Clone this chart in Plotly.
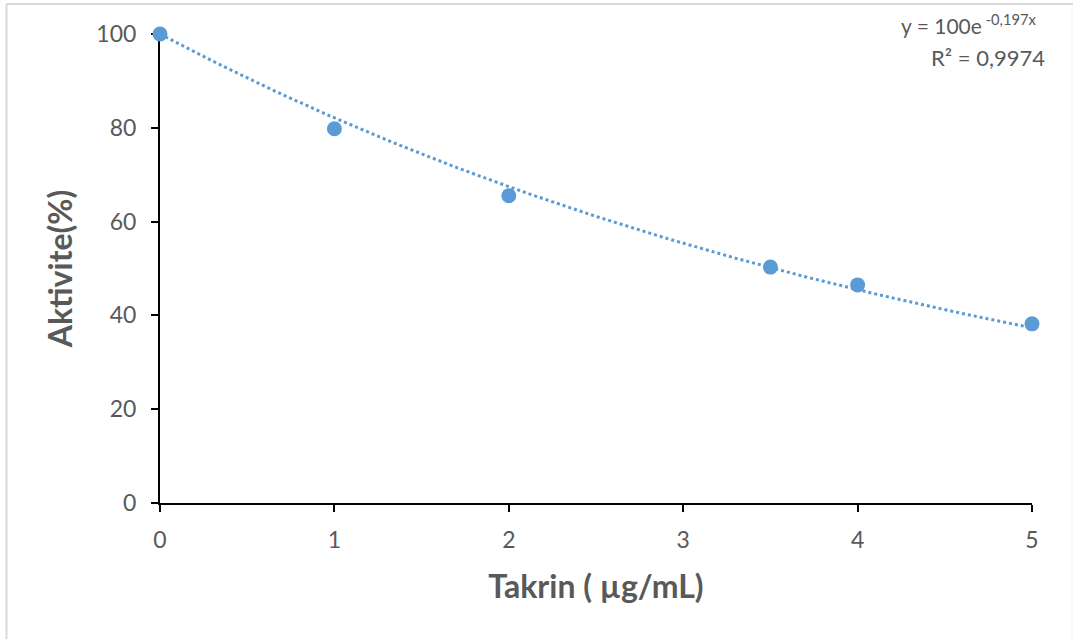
import numpy as np
import plotly.graph_objects as go

# Data
takrin = [0, 1, 2, 3.5, 4, 5]
aktivite = [100, 79.8, 65.5, 50.3, 46.5, 38.2]
x_ticks = [0, 1, 2, 3, 4, 5]
y_ticks = [0, 20, 40, 60, 80, 100]

# Exponential trendline parameters (shown on the chart)
fit_a = 100
fit_b = -0.197
r2 = "0,9974"

xf = np.linspace(0, 5, 200)
yf = fit_a * np.exp(fit_b * xf)

blue = "#5b9bd5"
gray = "#595959"
font_family = "Lato, Open Sans, sans-serif"

fig = go.Figure()
fig.add_trace(go.Scatter(x=xf, y=yf, mode="lines",
                         line=dict(color=blue, width=3, dash="dot"),
                         hoverinfo="skip", showlegend=False))
fig.add_trace(go.Scatter(x=takrin, y=aktivite, mode="markers",
                         marker=dict(color=blue, size=15),
                         cliponaxis=False, showlegend=False))

L, R, T, B = 160, 41, 34, 136
W, H = 1073, 639
pw, ph = W - L - R, H - T - B

def px(xp):
    return (xp - L) / pw

def py(yp):
    return (H - B - yp) / ph

fig.update_layout(
    width=W, height=H,
    margin=dict(l=L, r=R, t=T, b=B),
    paper_bgcolor="white", plot_bgcolor="white",
    font=dict(family=font_family, color=gray),
    xaxis=dict(range=[0, 5], tickvals=x_ticks, showgrid=False, zeroline=False,
               showline=True, linecolor="black", linewidth=2, layer="below traces",
               ticks="outside", ticklen=7, tickwidth=2, tickcolor="black",
               tickfont=dict(size=23, color=gray), ticklabelstandoff=8,
               title=dict(text="<b>Takrin ( µg/mL)</b>", font=dict(size=32, color=gray),
                          standoff=24)),
    yaxis=dict(range=[0, 100], tickvals=y_ticks, showgrid=False, zeroline=False,
               showline=True, linecolor="black", linewidth=2, layer="below traces",
               ticks="outside", ticklen=7, tickwidth=2, tickcolor="black",
               tickfont=dict(size=23, color=gray), ticklabelstandoff=10,
               title=dict(text="<b>Aktivite(%)</b>", font=dict(size=32, color=gray),
                          standoff=14)),
    shapes=[
        dict(type="line", xref="paper", yref="paper",
             x0=px(6.5), x1=px(W), y0=py(4), y1=py(4),
             line=dict(color="#d9d9d9", width=2)),
        dict(type="line", xref="paper", yref="paper",
             x0=px(6.5), x1=px(6.5), y0=py(4), y1=py(H),
             line=dict(color="#d9d9d9", width=2)),
        dict(type="line", xref="paper", yref="paper",
             x0=px(1072), x1=px(1072), y0=py(4), y1=py(H),
             line=dict(color="#f0f0f0", width=1)),
    ],
    annotations=[
        dict(xref="paper", yref="paper", x=px(1039), y=py(24), xanchor="right", yanchor="middle",
             text="y = 100e<sup> -0,197x</sup>", showarrow=False,
             font=dict(size=21, color=gray)),
        dict(xref="paper", yref="paper", x=px(1047), y=py(58), xanchor="right", yanchor="middle",
             text="R² = " + r2, showarrow=False,
             font=dict(size=22, color=gray)),
    ],
)

fig.write_html("out.html")
